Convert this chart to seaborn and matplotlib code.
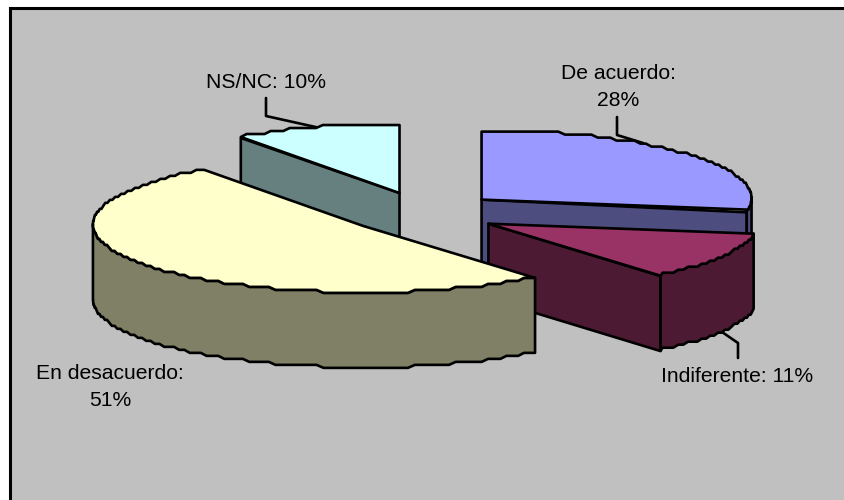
import numpy as np
import seaborn as sns
import matplotlib.pyplot as plt
from matplotlib.patches import Rectangle

# Slices, clockwise from 12 o'clock
labels = ['De acuerdo:\n28%', 'Indiferente: 11%', 'En desacuerdo:\n51%', 'NS/NC: 10%']
values = [28, 11, 51, 10]
top_colors = ['#9999FF', '#993366', '#FFFFCC', '#CCFFFF']
side_colors = ['#4D4D80', '#4D1A33', '#808066', '#668080']
label_pos = [(618, 87), (737, 376), (110, 387), (266, 82)]
leaders = [
    [(617, 117), (617, 135), (643, 143)],
    [(738, 358), (738, 343), (722, 332)],
    [],
    [(266, 98), (266, 116), (320, 128)],
]

# Projection in pixels
CX, CY = 423, 213
RX, RY = 270, 68
DEPTH = 75
EXPLODE_X, EXPLODE_Y = 76, 21
STEP = 3  # stair steps on the rim, like the low-res original

sns.set_style('white')
plt.rcParams['font.family'] = ['Liberation Sans', 'DejaVu Sans']

fig = plt.figure(figsize=(8.45, 5), dpi=100)
ax = fig.add_axes([0, 0, 1, 1])
ax.set_xlim(0, 845)
ax.set_ylim(500, 0)
ax.axis('off')

ax.add_patch(Rectangle((10.5, 8), 900, 600, facecolor='#C0C0C0', edgecolor='black', lw=2.2))


def arc(cx, cy, a1, a2):
    t = np.radians(np.arange(a1, a2, 1.5).tolist() + [a2])
    drop = RY * (1 - np.cos(t))
    drop = np.floor(drop / STEP) * STEP
    return cx + RX * np.sin(t), cy - RY + drop


def face(xs, ys, color, z):
    ax.fill(xs, ys, facecolor=color, edgecolor='black', lw=1.9, joinstyle='round', zorder=z)


angles = np.cumsum([0] + values) * 3.6
offs = []
for i in range(len(values)):
    mid = np.radians((angles[i] + angles[i + 1]) / 2)
    offs.append((CX + EXPLODE_X * np.sin(mid), CY - EXPLODE_Y * np.cos(mid)))

# back slices first
order = np.argsort([o[1] for o in offs])
for z, i in enumerate(order):
    a1, a2 = angles[i], angles[i + 1]
    cx, cy = offs[i]
    zo = 2 + z
    for a, show in ((a1, np.sin(np.radians(a1)) < 0), (a2, np.sin(np.radians(a2)) > 0)):
        if show:
            ex = cx + RX * np.sin(np.radians(a))
            ey = cy - RY * np.cos(np.radians(a))
            face([cx, ex, ex, cx], [cy, ey, ey + DEPTH, cy + DEPTH], side_colors[i], zo)
    lo, hi = max(a1, 90), min(a2, 270)
    if lo < hi:
        xs, ys = arc(cx, cy, lo, hi)
        face(np.r_[xs, xs[::-1]], np.r_[ys, ys[::-1] + DEPTH], side_colors[i], zo)
    xs, ys = arc(cx, cy, a1, a2)
    face(np.r_[cx, xs], np.r_[cy, ys], top_colors[i], zo)

for pts in leaders:
    if pts:
        ax.plot(*zip(*pts), color='black', lw=1.9, zorder=1.5)

for text, (x, y) in zip(labels, label_pos):
    ax.text(x, y, text, ha='center', va='center', fontsize=15.2, color='black', linespacing=1.5, zorder=10)

fig.savefig('out.png', dpi=100)
